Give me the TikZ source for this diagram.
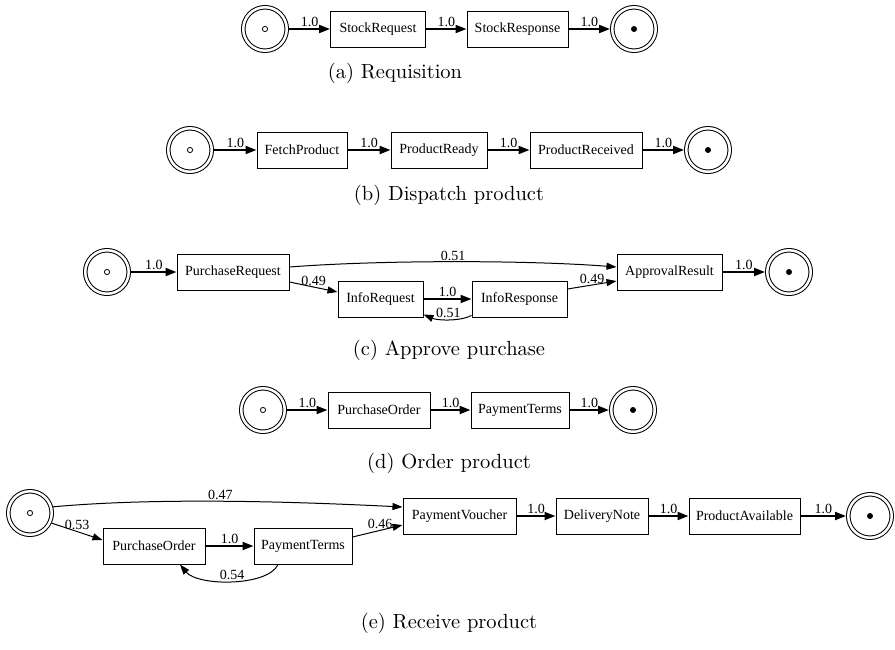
\documentclass[tikz,border=0pt]{standalone}
\usepackage{fontspec}
\newfontfamily\tnr{Liberation Serif}
\newfontfamily\capfont{lmroman10-regular.otf}
\usetikzlibrary{arrows.meta,calc}
\begin{document}
\begin{tikzpicture}[x=1pt,y=-1pt,
  box/.style={draw, line width=1pt, minimum height=36pt, inner sep=0pt, font=\tnr\fontsize{14}{16}\selectfont},
  place/.style={circle, draw, line width=1pt, double, double distance=2.5pt, minimum size=43.5pt, inner sep=0pt, outer sep=2.25pt},
  e/.style={line width=2pt, -{Triangle[length=11pt,width=8pt]}},
  ethin/.style={line width=1pt, -{Triangle[length=10pt,width=7pt]}},
  lab/.style={font=\tnr\fontsize{14}{16}\selectfont, inner sep=1pt, above},
  captext/.style={font=\capfont\fontsize{20.5}{24}\selectfont, inner sep=0pt}]
\useasboundingbox (0,0) rectangle (895,649);

% (a)
\node[place] (sa) at (265,29) {};
\node[box, minimum width=95pt] (a1) at (378,29) {StockRequest};
\node[box, minimum width=101pt] (a2) at (517.5,29) {StockResponse};
\node[place] (ea) at (634,29) {};
\node[captext] (ca) at (395,73) {(a) Requisition};
\draw[e] (sa) -- node[lab]{1.0} (a1);
\draw[e] (a1) -- node[lab]{1.0} (a2);
\draw[e] (a2) -- node[lab]{1.0} (ea);

% (b)
\node[place] (sb) at (190,150) {};
\node[box, minimum width=90pt] (b1) at (302,150) {FetchProduct};
\node[box, minimum width=96pt] (b2) at (439,150) {ProductReady};
\node[box, minimum width=112pt] (b3) at (586,150) {ProductReceived};
\node[place] (eb) at (708,150) {};
\node[captext] (cb) at (449,195) {(b) Dispatch product};
\draw[e] (sb) -- node[lab]{1.0} (b1);
\draw[e] (b1) -- node[lab]{1.0} (b2);
\draw[e] (b2) -- node[lab]{1.0} (b3);
\draw[e] (b3) -- node[lab]{1.0} (eb);

% (c)
\node[place] (sc) at (107,272) {};
\node[box, minimum width=112pt] (c1) at (233,272) {PurchaseRequest};
\node[box, minimum width=85pt] (c2) at (380.5,299) {InfoRequest};
\node[box, minimum width=95pt] (c3) at (519.5,299) {InfoResponse};
\node[box, minimum width=105pt] (c4) at (669.5,272) {ApprovalResult};
\node[place] (ec) at (789,272) {};
\node[captext] (cc) at (449,350) {(c) Approve purchase};
\draw[e] (sc) -- node[lab]{1.0} (c1);
\draw[ethin] ([yshift=5pt]c1.east) .. controls +(90,-7) and +(-90,-7) .. node[lab]{0.51} ([yshift=5pt]c4.west);
\draw[ethin] ([yshift=-10pt]c1.east) -- node[lab, pos=0.5]{0.49} ([yshift=7pt]c2.west);
\draw[e] (c2) -- node[lab]{1.0} (c3);
\draw[ethin] ([yshift=2pt]c3.south west) .. controls +(-12,6) and +(14,6) .. node[lab]{0.51} ([yshift=3pt]c2.south east);
\draw[ethin] ([yshift=10pt]c3.east) -- node[lab]{0.49} ([yshift=-9pt]c4.west);
\draw[e] (c4) -- node[lab]{1.0} (ec);

% (d)
\node[place] (sd) at (263,410) {};
\node[box, minimum width=102pt] (d1) at (379,410) {PurchaseOrder};
\node[box, minimum width=98pt] (d2) at (520,410) {PaymentTerms};
\node[place] (ed) at (633,410) {};
\node[captext] (cd) at (449,463) {(d) Order product};
\draw[e] (sd) -- node[lab]{1.0} (d1);
\draw[e] (d1) -- node[lab]{1.0} (d2);
\draw[e] (d2) -- node[lab]{1.0} (ed);

% (e)
\node[place] (se) at (30,513) {};
\node[box, minimum width=102pt] (e1) at (154,546) {PurchaseOrder};
\node[box, minimum width=98pt] (e2) at (303,546) {PaymentTerms};
\node[box, minimum width=113pt] (e3) at (459.5,516) {PaymentVoucher};
\node[box, minimum width=92pt] (e4) at (602,516) {DeliveryNote};
\node[box, minimum width=111pt] (e5) at (744.5,516) {ProductAvailable};
\node[place] (ee) at (870,516) {};
\node[captext] (ce) at (449,623) {(e) Receive product};
\draw[ethin] (se.15) .. controls +(100,-9) and +(-120,-6) .. node[lab]{0.47} ([yshift=9pt]e3.west);
\draw[ethin] (se.-25) -- node[lab, pos=0.5]{0.53} ([yshift=6pt]e1.west);
\draw[e] (e1) -- node[lab]{1.0} (e2);
\draw[ethin] ([xshift=-25pt]e2.south) .. controls +(-10,22) and +(18,22) .. node[lab]{0.54} ([xshift=26pt]e1.south);
\draw[ethin] ([yshift=9pt]e2.east) -- node[lab, pos=0.55]{0.46} ([yshift=-9pt]e3.west);
\draw[e] (e3) -- node[lab]{1.0} (e4);
\draw[e] (e4) -- node[lab]{1.0} (e5);
\draw[e] (e5) -- node[lab]{1.0} (ee);

% place markers
\foreach \n in {sa,sb,sc,sd,se} \draw[line width=0.8pt] (\n.center) circle (2.6pt);
\foreach \n in {ea,eb,ec,ed,ee} \fill (\n.center) circle (3pt);
\end{tikzpicture}
\end{document}
